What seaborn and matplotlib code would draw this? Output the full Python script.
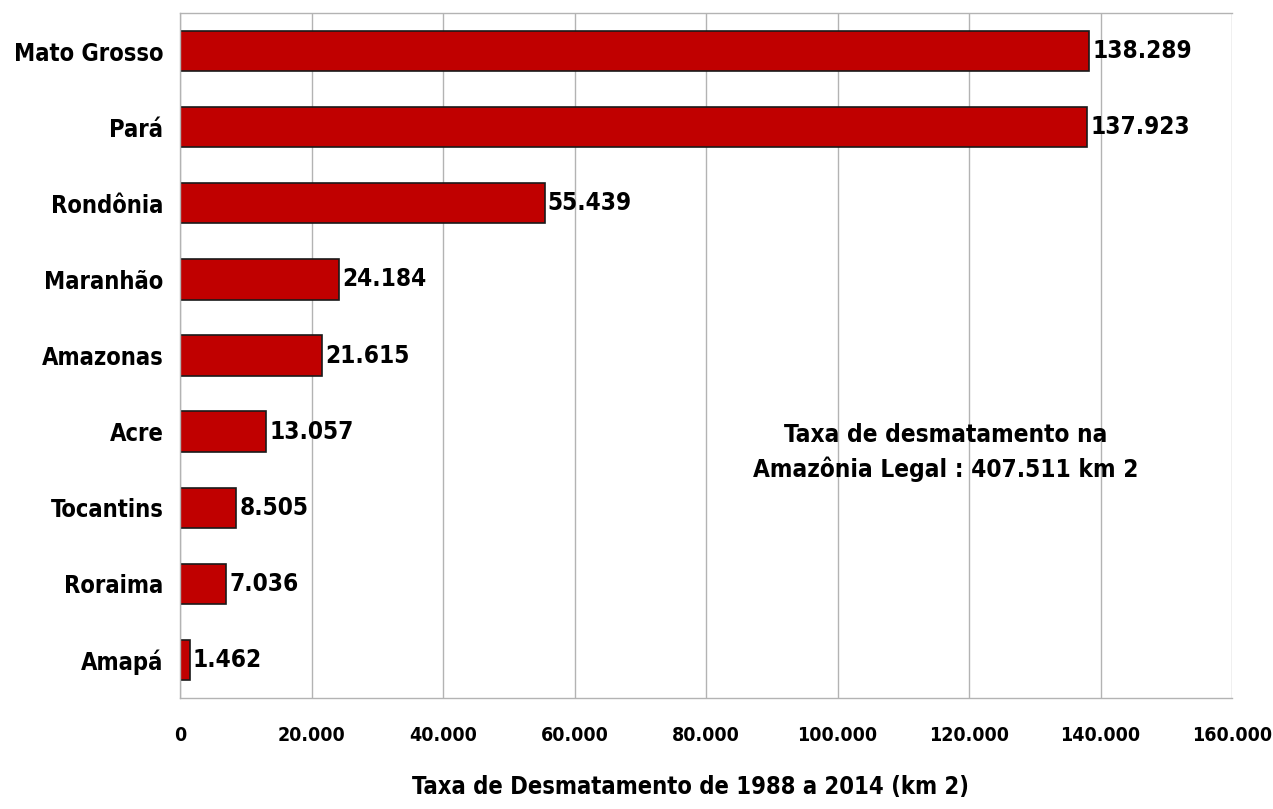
import matplotlib
matplotlib.use("Agg")
import matplotlib.pyplot as plt
import matplotlib.ticker as mticker
import seaborn as sns
import pandas as pd

states = ["Mato Grosso", "Pará", "Rondônia", "Maranhão", "Amazonas",
          "Acre", "Tocantins", "Roraima", "Amapá"]
area_km2 = [138289, 137923, 55439, 24184, 21615, 13057, 8505, 7036, 1462]
x_ticks = [0, 20000, 40000, 60000, 80000, 100000, 120000, 140000, 160000]
total_label = "Taxa de desmatamento na\nAmazônia Legal : 407.511 km 2"
x_title = "Taxa de Desmatamento de 1988 a 2014 (km 2)"

sns.set_theme(style="white")
plt.rcParams["font.family"] = ["DejaVu Sans"]
plt.rcParams["font.stretch"] = "condensed"
plt.rcParams["font.weight"] = "bold"
plt.rcParams["axes.labelweight"] = "bold"
plt.rcParams["text.color"] = "black"
plt.rcParams["xtick.color"] = "black"
plt.rcParams["ytick.color"] = "black"
plt.rcParams["axes.labelcolor"] = "black"


def br(v):
    return f"{v:,.0f}".replace(",", ".")


df = pd.DataFrame({"estado": states, "area": area_km2})

fig = plt.figure(figsize=(12.73, 8.09), dpi=100)
ax = fig.add_axes([0.1414, 0.1372, 0.8264, 0.8467])

sns.barplot(data=df, y="estado", x="area", orient="h", color="#C00000",
            saturation=1, width=0.53, edgecolor="#1a1a1a", linewidth=1.2, ax=ax)

ax.set_xlim(0, 160000)
ax.set_ylim(len(states) - 0.5, -0.5)
ax.set_xticks(x_ticks)
ax.xaxis.set_major_formatter(mticker.FuncFormatter(lambda v, p: br(v)))
ax.grid(axis="x", color="#b3b3b3", linewidth=1.0)
ax.set_axisbelow(True)

# category boundary ticks on the y axis
ax.set_yticks([i + 0.5 for i in range(-1, len(states))], minor=True)
ax.tick_params(axis="y", which="major", length=0, pad=12)
ax.tick_params(axis="y", which="minor", length=8, color="#b3b3b3", width=1)
ax.tick_params(axis="x", length=8, color="#b3b3b3", labelcolor="black",
               width=1, pad=12)

for s in ["left", "bottom", "top"]:
    ax.spines[s].set_color("#b3b3b3")
    ax.spines[s].set_linewidth(1.0)
ax.spines["right"].set_visible(False)

for lbl in ax.get_yticklabels():
    lbl.set_fontsize(17)
for lbl in ax.get_xticklabels():
    lbl.set_fontsize(14)

for i, v in enumerate(area_km2):
    ax.text(v + 500, i, br(v), va="center", ha="left", fontsize=17.5)

ax.text(0.728, 0.358, total_label, transform=ax.transAxes, ha="center",
        va="center", fontsize=17.5, linespacing=1.45)

ax.set_ylabel("")
ax.set_xlabel(x_title, fontsize=17, fontweight="bold", labelpad=22)
ax.xaxis.set_label_coords(0.485, -0.112)

fig.savefig("out.png", dpi=100)
